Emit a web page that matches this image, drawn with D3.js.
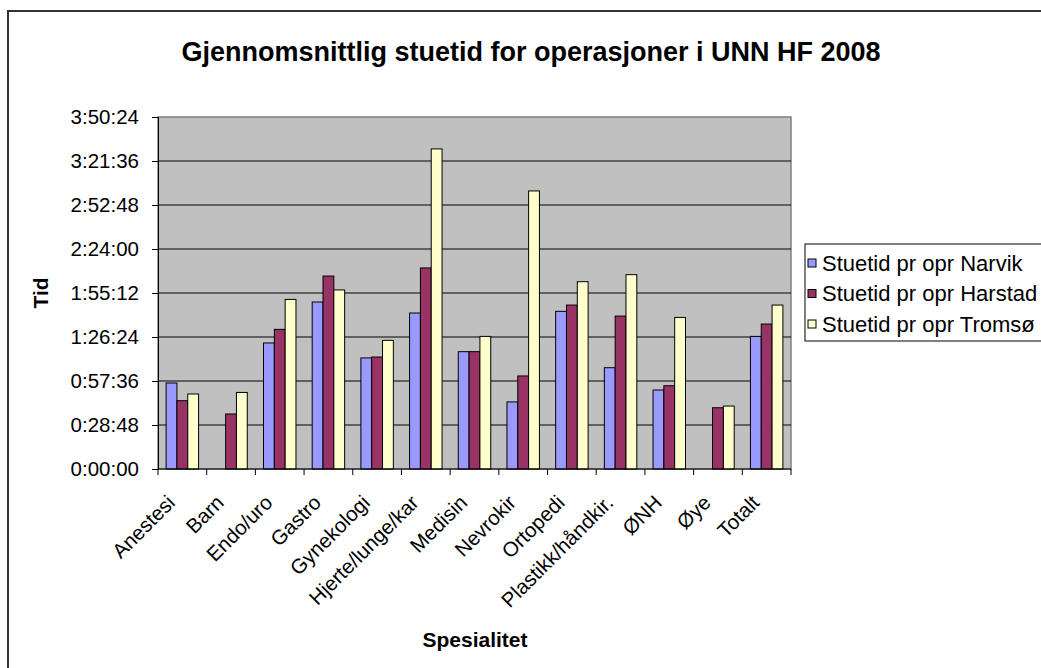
<!DOCTYPE html>
<html>
<head>
<meta charset="utf-8">
<script src="https://cdn.jsdelivr.net/npm/d3@7"></script>
<style>
    body { margin: 0; background: #fff; }
    svg { display: block; font-family: "Liberation Sans", Arial, sans-serif; }
</style>
</head>
<body>
<div id="chart"></div>
<script>
// categories (specialties)
const categories = ["Anestesi", "Barn", "Endo/uro", "Gastro", "Gynekologi", "Hjerte/lunge/kar",
    "Medisin", "Nevrokir", "Ortopedi", "Plastikk/håndkir.", "ØNH", "Øye", "Totalt"];

const seriesNames = ["Stuetid pr opr Narvik", "Stuetid pr opr Harstad", "Stuetid pr opr Tromsø"];

// average room time in minutes (null = no bar)
const narvik  = [56.3, null, 82.5, 109.3, 72.7, 102.1, 76.8, 43.9, 103.2, 66.3, 51.7, null, 86.8];
const harstad = [44.7, 36.0, 91.4, 126.3, 73.3, 131.6, 76.8, 60.9, 107.3, 100.1, 54.5, 40.1, 94.9];
const tromso  = [49.1, 50.1, 111.0, 117.2, 84.2, 209.5, 86.8, 182.0, 122.6, 127.2, 99.2, 41.2, 107.3];

const colors = ["#9999FF", "#993366", "#FFFFCC"];

// y ticks: every 0:28:48 (1728 s) up to 3:50:24
const tickStep = 1728;
const tickCount = 8;

let width = 1041, height = 668;
let margin = {top: 117, left: 158, right: 1041 - 791, bottom: 668 - 469};

let svg = d3.select("#chart").append("svg")
    .attr("width", width)
    .attr("height", height);

// outer chart frame
svg.append("rect")
    .attr("x", 8).attr("y", 11)
    .attr("width", 1100).attr("height", 700)
    .attr("fill", "#fff")
    .attr("stroke", "#333")
    .attr("stroke-width", 2);

let x = d3.scaleBand()
    .domain(categories)
    .range([margin.left, width - margin.right])
    .paddingInner(0).paddingOuter(0);

let x1 = d3.scaleBand()
    .domain(d3.range(seriesNames.length))
    .range([0, x.bandwidth()])
    .paddingInner(0).paddingOuter(0.75);

let y = d3.scaleLinear()
    .domain([0, tickStep * tickCount])
    .range([height - margin.bottom, margin.top]);

let fmt = function(s) {
    let h = Math.floor(s / 3600), m = Math.floor((s % 3600) / 60), sec = s % 60;
    return h + ":" + String(m).padStart(2, "0") + ":" + String(sec).padStart(2, "0");
};

// plot background
svg.append("rect")
    .attr("x", margin.left).attr("y", margin.top)
    .attr("width", width - margin.left - margin.right)
    .attr("height", height - margin.top - margin.bottom)
    .attr("fill", "#C0C0C0")
    .attr("stroke", "#808080")
    .attr("stroke-width", 1.5);

let ticks = d3.range(0, tickCount + 1).map(i => i * tickStep);

// gridlines
svg.append("g")
    .selectAll("line")
    .data(ticks.slice(1, -1))
    .join("line")
    .attr("x1", margin.left).attr("x2", width - margin.right)
    .attr("y1", d => y(d)).attr("y2", d => y(d))
    .attr("stroke", "#000")
    .attr("stroke-width", 1);

// bars
let allSeries = [narvik, harstad, tromso];
allSeries.forEach(function(values, si) {
    svg.append("g")
        .selectAll("rect")
        .data(values.map((v, i) => ({cat: categories[i], v: v})).filter(d => d.v !== null))
        .join("rect")
        .attr("x", d => x(d.cat) + x1(si))
        .attr("y", d => y(d.v * 60))
        .attr("width", x1.bandwidth())
        .attr("height", d => y(0) - y(d.v * 60))
        .attr("fill", colors[si])
        .attr("stroke", "#000")
        .attr("stroke-width", 1);
});

// y axis
let yAxis = svg.append("g")
    .attr("transform", "translate(" + margin.left + ",0)")
    .call(d3.axisLeft(y).tickValues(ticks).tickFormat(fmt).tickSize(6).tickPadding(13));
yAxis.select(".domain").attr("stroke", "#000");
yAxis.selectAll("line").attr("stroke", "#000");
yAxis.selectAll("text")
    .attr("font-size", "20.5px")
    .attr("font-family", "Liberation Sans, Arial, sans-serif")
    .attr("fill", "#000");

// x axis
let xAxis = svg.append("g")
    .attr("transform", "translate(0," + y(0) + ")");
xAxis.append("line")
    .attr("x1", margin.left).attr("x2", width - margin.right)
    .attr("stroke", "#000");
xAxis.selectAll(".tick")
    .data(categories.concat(["end"]))
    .join("line")
    .attr("class", "tick")
    .attr("x1", (d, i) => i < categories.length ? x(d) : width - margin.right)
    .attr("x2", (d, i) => i < categories.length ? x(d) : width - margin.right)
    .attr("y1", 0).attr("y2", 6)
    .attr("stroke", "#000");

svg.append("g")
    .selectAll("text")
    .data(categories)
    .join("text")
    .attr("transform", d => "translate(" + (x(d) + x.bandwidth() / 2 - 6) + "," + (y(0) + 35) + ") rotate(-45)")
    .attr("text-anchor", "end")
    .attr("font-size", "20.5px")
    .text(d => d);

// titles
svg.append("text")
    .attr("x", 531).attr("y", 61)
    .attr("text-anchor", "middle")
    .attr("font-size", "27px")
    .attr("font-weight", "bold")
    .text("Gjennomsnittlig stuetid for operasjoner i UNN HF 2008");

svg.append("text")
    .attr("x", 475).attr("y", 647)
    .attr("text-anchor", "middle")
    .attr("font-size", "21px")
    .attr("font-weight", "bold")
    .text("Spesialitet");

svg.append("text")
    .attr("transform", "translate(48,293) rotate(-90)")
    .attr("text-anchor", "middle")
    .attr("font-size", "21px")
    .attr("font-weight", "bold")
    .text("Tid");

// legend
let legend = svg.append("g");
legend.append("rect")
    .attr("x", 805).attr("y", 244)
    .attr("width", 300).attr("height", 97)
    .attr("fill", "#fff")
    .attr("stroke", "#000")
    .attr("stroke-width", 1);

let items = legend.selectAll("g")
    .data(seriesNames)
    .join("g")
    .attr("transform", (d, i) => "translate(808," + (263 + i * 30.5) + ")");
items.append("rect")
    .attr("x", 0).attr("y", -4)
    .attr("width", 8).attr("height", 8)
    .attr("fill", (d, i) => colors[i])
    .attr("stroke", "#000");
items.append("text")
    .attr("x", 14).attr("y", 7.5)
    .attr("font-size", "22px")
    .text(d => d);
</script>
</body>
</html>
